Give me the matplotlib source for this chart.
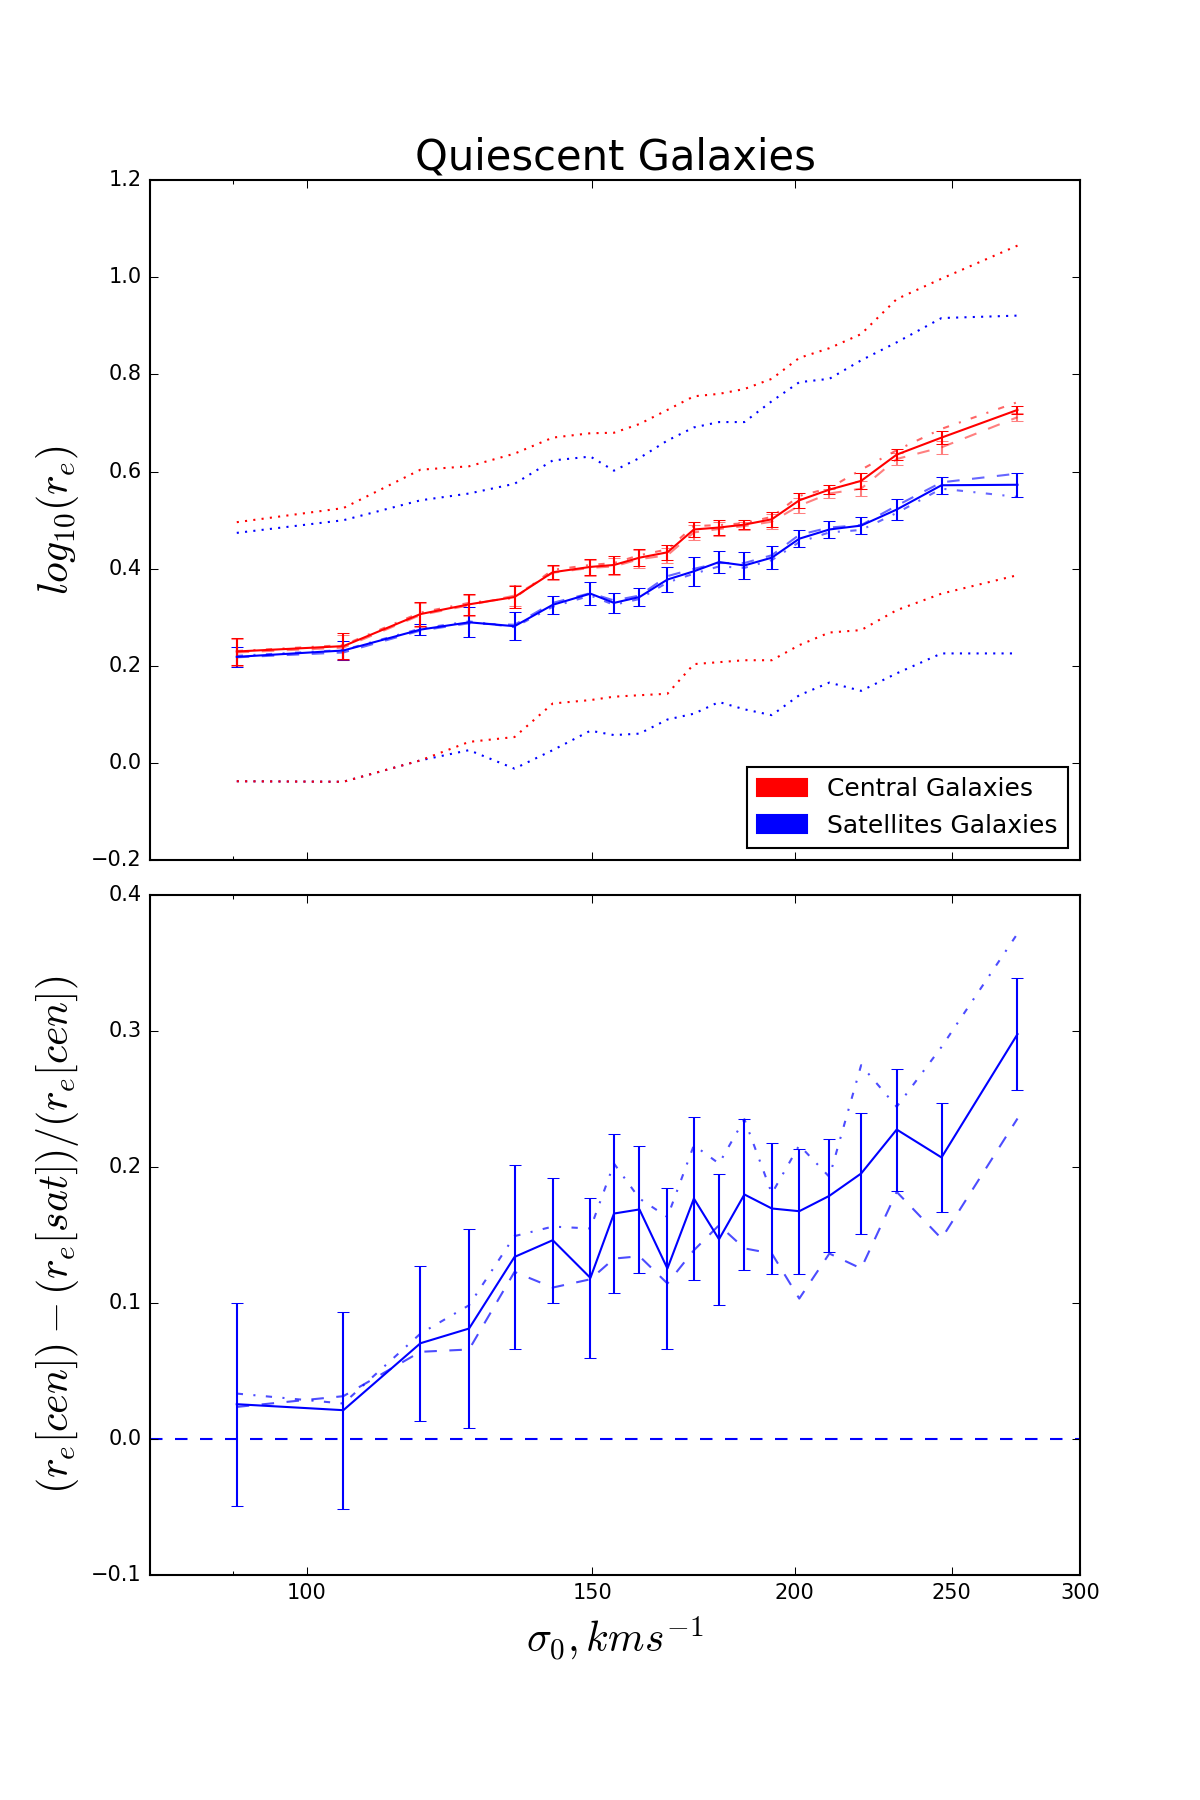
import numpy as np
import matplotlib
matplotlib.use("Agg")
import matplotlib.pyplot as plt
import matplotlib.patches as mpatches
from matplotlib import ticker

plt.style.use('classic')

# velocity dispersion bins (km/s)
sigma = [90.5, 105.3, 117.5, 125.9, 134.3, 141.8, 149.6, 154.7, 160.4, 166.9,
         173.3, 179.6, 186.2, 193.6, 201.3, 210.1, 219.8, 231.2, 246.4, 274.5]

# top panel: median log10(r_e)
cen_med = [0.230, 0.241, 0.307, 0.327, 0.342, 0.393, 0.404, 0.408, 0.423, 0.434,
           0.481, 0.485, 0.491, 0.502, 0.541, 0.563, 0.581, 0.635, 0.670, 0.727]
cen_err = [0.027, 0.026, 0.024, 0.021, 0.022, 0.014, 0.017, 0.018, 0.018, 0.015,
           0.015, 0.015, 0.009, 0.015, 0.015, 0.009, 0.016, 0.012, 0.013, 0.008]
cen_dash = [0.228, 0.238, 0.305, 0.325, 0.345, 0.392, 0.402, 0.405, 0.420, 0.428,
            0.475, 0.482, 0.488, 0.497, 0.530, 0.555, 0.565, 0.626, 0.650, 0.712]
cen_dashdot = [0.231, 0.243, 0.310, 0.330, 0.340, 0.398, 0.408, 0.412, 0.428, 0.440,
               0.488, 0.490, 0.494, 0.507, 0.550, 0.566, 0.604, 0.644, 0.688, 0.743]
cen_hi = [0.496, 0.525, 0.604, 0.611, 0.637, 0.670, 0.679, 0.680, 0.698, 0.727,
          0.755, 0.760, 0.770, 0.791, 0.834, 0.854, 0.883, 0.955, 0.997, 1.065]
cen_lo = [-0.037, -0.038, 0.006, 0.044, 0.054, 0.123, 0.130, 0.137, 0.140, 0.143,
          0.204, 0.208, 0.212, 0.212, 0.243, 0.269, 0.274, 0.315, 0.349, 0.387]

sat_med = [0.219, 0.232, 0.275, 0.290, 0.282, 0.326, 0.349, 0.330, 0.342, 0.378,
           0.395, 0.414, 0.407, 0.423, 0.462, 0.481, 0.489, 0.522, 0.572, 0.573]
sat_err = [0.020, 0.020, 0.011, 0.031, 0.029, 0.018, 0.023, 0.021, 0.018, 0.025,
           0.030, 0.023, 0.027, 0.023, 0.018, 0.018, 0.018, 0.021, 0.017, 0.025]
sat_dash = [0.218, 0.228, 0.273, 0.288, 0.285, 0.330, 0.350, 0.335, 0.345, 0.385,
            0.400, 0.412, 0.412, 0.428, 0.470, 0.485, 0.490, 0.530, 0.578, 0.596]
sat_dashdot = [0.221, 0.233, 0.277, 0.292, 0.280, 0.322, 0.345, 0.326, 0.338, 0.372,
               0.390, 0.405, 0.402, 0.418, 0.455, 0.475, 0.480, 0.515, 0.565, 0.548]
sat_hi = [0.474, 0.500, 0.541, 0.555, 0.575, 0.623, 0.631, 0.602, 0.628, 0.664,
          0.691, 0.702, 0.702, 0.745, 0.784, 0.791, 0.829, 0.866, 0.916, 0.921]
sat_lo = [-0.037, -0.038, 0.006, 0.027, -0.011, 0.027, 0.067, 0.058, 0.061, 0.090,
          0.102, 0.126, 0.111, 0.099, 0.140, 0.166, 0.149, 0.185, 0.226, 0.226]

# bottom panel: fractional size difference
diff_med = [0.0255, 0.0211, 0.0703, 0.0811, 0.1337, 0.146, 0.1183, 0.1656, 0.1686, 0.1252,
            0.1766, 0.1467, 0.1796, 0.1693, 0.1673, 0.1786, 0.195, 0.2273, 0.2068, 0.2974]
diff_err = [0.0745, 0.0725, 0.0568, 0.0731, 0.0678, 0.046, 0.0589, 0.0587, 0.0466, 0.059,
            0.0597, 0.048, 0.0555, 0.048, 0.046, 0.0415, 0.0446, 0.0448, 0.040, 0.041]
diff_dash = [0.0235, 0.0314, 0.064, 0.0657, 0.1227, 0.1112, 0.1173, 0.1325, 0.1342, 0.1142,
             0.1386, 0.157, 0.140, 0.1362, 0.1031, 0.1362, 0.1252, 0.1815, 0.1472, 0.2354]
diff_dashdot = [0.0333, 0.026, 0.0774, 0.0982, 0.149, 0.156, 0.1546, 0.2023, 0.1766, 0.163,
                0.2158, 0.2023, 0.2349, 0.1803, 0.2158, 0.1925, 0.2746, 0.244, 0.288, 0.3713]

xticks = [100, 150, 200, 250, 300]

fig, (ax1, ax2) = plt.subplots(2, 1, sharex=True, figsize=(8, 12))
fig.subplots_adjust(left=0.125, right=0.9, top=0.9, bottom=0.125, hspace=0.05)

# top panel (satellites first so the centrals sit on top)
ax1.errorbar(sigma, sat_med, yerr=sat_err, color='b', capsize=3)
ax1.plot(sigma, sat_dash, color='b', ls='--', alpha=0.6)
ax1.plot(sigma, sat_dashdot, color='b', ls='-.', alpha=0.6)
ax1.plot(sigma, sat_hi, color='b', ls=':')
ax1.plot(sigma, sat_lo, color='b', ls=':')

ax1.errorbar(sigma, cen_med, yerr=cen_err, color='r', capsize=3)
ax1.errorbar(sigma, cen_dash, yerr=cen_err, color='r', ls='--', alpha=0.5, capsize=3)
ax1.plot(sigma, cen_dashdot, color='r', ls='-.', alpha=0.6)
ax1.plot(sigma, cen_hi, color='r', ls=':')
ax1.plot(sigma, cen_lo, color='r', ls=':')

ax1.set_xscale('log')
ax1.set_xlim(80, 300)
ax1.set_ylim(-0.2, 1.2)
ax1.set_ylabel(r'$log_{10}(r_e)$', fontsize=20)
ax1.set_title('Quiescent Galaxies', fontsize=20)
handles = [mpatches.Patch(color='r', label='Central Galaxies'),
           mpatches.Patch(color='b', label='Satellites Galaxies')]
ax1.legend(handles=handles, loc='lower right', fontsize=12)

# bottom panel
ax2.errorbar(sigma, diff_med, yerr=diff_err, color='b', capsize=3)
ax2.plot(sigma, diff_dash, color='b', ls='--', alpha=0.7)
ax2.plot(sigma, diff_dashdot, color='b', ls='-.', alpha=0.7)
ax2.axhline(0, color='b', ls='--')
ax2.set_ylim(-0.1, 0.4)
ax2.set_ylabel(r'$(r_e[cen])-(r_e[sat])/(r_e[cen])$', fontsize=20)
ax2.set_xlabel(r'$\sigma_0, kms^{-1}$', fontsize=20)

ax2.xaxis.set_major_locator(ticker.FixedLocator(xticks))
ax2.xaxis.set_major_formatter(ticker.FormatStrFormatter('%d'))
ax2.xaxis.set_minor_formatter(ticker.NullFormatter())

for ax in (ax1, ax2):
    ax.tick_params(labelsize=10)

fig.savefig('out.png', dpi=150)
